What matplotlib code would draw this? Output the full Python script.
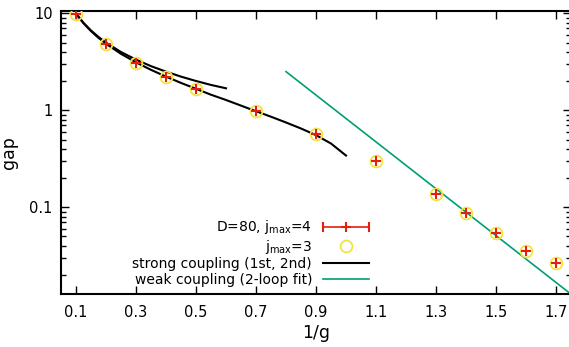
import matplotlib
matplotlib.use("Agg")
import matplotlib.pyplot as plt
import numpy as np
from matplotlib.lines import Line2D
from matplotlib.legend_handler import HandlerBase
from matplotlib.ticker import LogLocator, FixedLocator, NullFormatter

plt.rcParams['font.family'] = ['DejaVu Sans']
plt.rcParams['mathtext.default'] = 'regular'

# data
inv_g = [0.1, 0.2, 0.3, 0.4, 0.5, 0.7, 0.9, 1.1, 1.3, 1.4, 1.5, 1.6, 1.7]
gap_j4 = [9.9, 4.85, 3.11, 2.2, 1.67, 0.98, 0.565, 0.30, 0.136, 0.087, 0.054, 0.0357, 0.0265]
gap_j3 = [9.9, 4.85, 3.11, 2.2, 1.67, 0.98, 0.565, 0.30, 0.136, 0.087, 0.054, 0.0357, 0.0265]

strong1_x = [0.1, 0.125, 0.15, 0.175, 0.2, 0.25, 0.3, 0.35, 0.4, 0.45, 0.5, 0.55, 0.6]
strong1_y = [10.0, 8.0, 6.67, 5.72, 5.0, 4.0, 3.34, 2.86, 2.51, 2.23, 2.01, 1.83, 1.69]

strong2_x = [0.1, 0.125, 0.15, 0.175, 0.2, 0.25, 0.3, 0.35, 0.4, 0.45, 0.5, 0.55, 0.6,
             0.65, 0.7, 0.75, 0.8, 0.85, 0.9, 0.95, 1.0]
strong2_y = [9.93, 7.92, 6.57, 5.6, 4.87, 3.83, 3.13, 2.62, 2.23, 1.92, 1.67, 1.45, 1.28,
             1.12, 0.98, 0.86, 0.75, 0.65, 0.555, 0.455, 0.342]

weak_x = [0.8, 1.75]
weak_y = [2.51, 0.0127]

xticks = [0.1, 0.3, 0.5, 0.7, 0.9, 1.1, 1.3, 1.5, 1.7]

red = '#e51e10'
yellow = '#f0e442'
green = '#009e73'


class ErrKeyHandler(HandlerBase):
    # gnuplot style key sample: horizontal bar with end caps and a point
    def create_artists(self, legend, orig_handle, xdescent, ydescent,
                       width, height, fontsize, trans):
        y = height / 2 - ydescent
        x0, x1 = -xdescent, width - xdescent
        bar = Line2D([x0, x1], [y, y], color=red, lw=1.2)
        caps = Line2D([x0, x1], [y, y], ls='none', marker='|', ms=7, mew=1.5, color=red)
        pt = Line2D([(x0 + x1) / 2], [y], ls='none', marker='+', ms=7.5, mew=1.5, color=red)
        arts = [bar, caps, pt]
        for a in arts:
            a.set_transform(trans)
        return arts


fig = plt.figure(figsize=(5.69, 3.47), dpi=100)
ax = fig.add_axes([61/569, 1-293.5/347, 510/569, (293.5-11)/347])

ax.plot(strong1_x, strong1_y, color='black', lw=1.5, zorder=2)
ax.plot(strong2_x, strong2_y, color='black', lw=1.5, zorder=2)
ax.plot(weak_x, weak_y, color=green, lw=1.2, zorder=2)
ax.plot(inv_g, gap_j3, ls='none', marker='o', ms=8.5, mfc='none', mec=yellow, mew=1.3, zorder=3)
ax.plot(inv_g, gap_j4, ls='none', marker='+', ms=7.5, mec=red, mew=1.5, zorder=4)

ax.set_yscale('log')
ax.set_xlim(0.05, 1.75)
ax.set_ylim(0.0129, 10.6)

ax.xaxis.set_major_locator(FixedLocator(xticks))
ax.set_xticklabels([f'{t:.1f}' for t in xticks])
ax.yaxis.set_major_locator(FixedLocator([0.1, 1, 10]))
ax.set_yticklabels(['0.1', '1', '10'])
ax.yaxis.set_minor_locator(LogLocator(base=10, subs=np.arange(2, 10)))
ax.yaxis.set_minor_formatter(NullFormatter())

ax.tick_params(which='both', direction='in', top=True, right=True, labelsize=10.5)
ax.tick_params(which='major', length=6, width=1)
ax.tick_params(which='minor', length=3.5, width=1)
ax.tick_params(axis='x', pad=8)
ax.tick_params(axis='y', pad=6)
for s in ax.spines.values():
    s.set_linewidth(1.5)

ax.set_xlabel('1/g', fontsize=12.5, labelpad=3)
ax.set_ylabel('gap', fontsize=12.5, labelpad=8)

# legend handles
h_err = Line2D([], [], color=red)
h_j3 = Line2D([], [], ls='none', marker='o', ms=8.5, mfc='none', mec=yellow, mew=1.3)
h_s = Line2D([], [], color='black', lw=1.5)
h_w = Line2D([], [], color=green, lw=1.2)

leg = ax.legend([h_err, h_j3, h_s, h_w],
                ['D=80, j$_{max}$=4', 'j$_{max}$=3',
                 'strong coupling (1st, 2nd)', 'weak coupling (2-loop fit)'],
                handler_map={h_err: ErrKeyHandler()},
                loc='lower right', bbox_to_anchor=((376-61)/510, 0.0),
                markerfirst=False, frameon=False, fontsize=10,
                handlelength=3.3, handletextpad=0.8, labelspacing=0.1,
                borderpad=0.2, borderaxespad=0.3)

fig.savefig('out.png', dpi=100)
